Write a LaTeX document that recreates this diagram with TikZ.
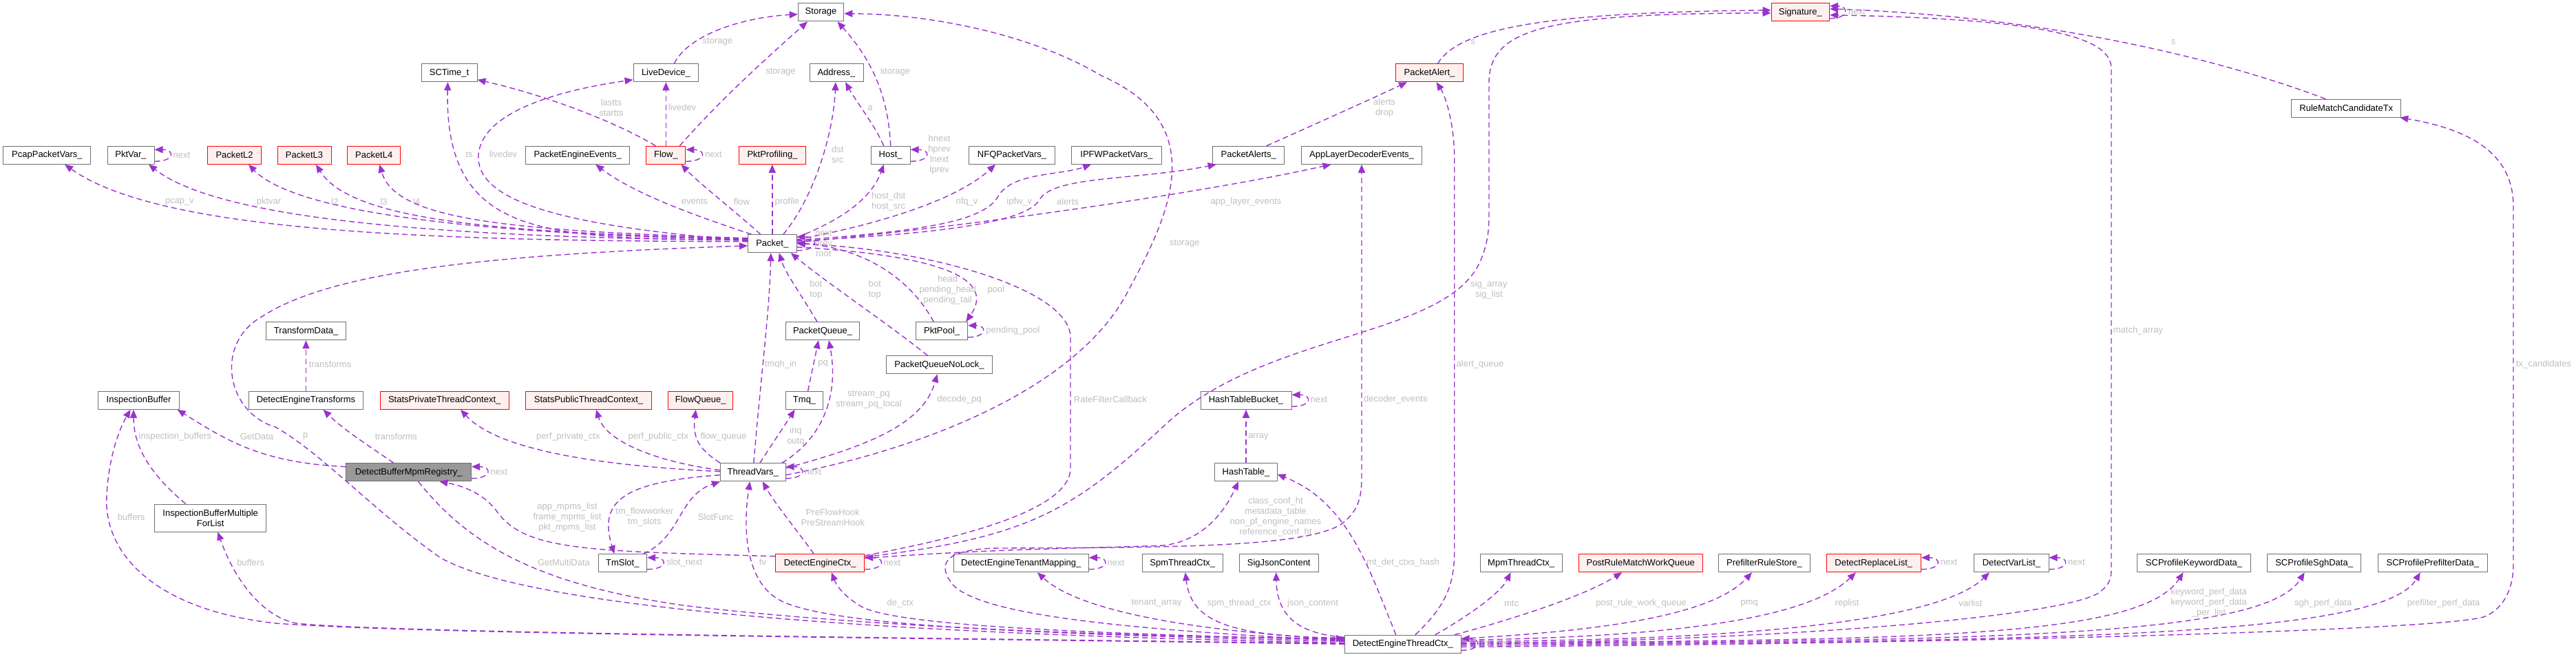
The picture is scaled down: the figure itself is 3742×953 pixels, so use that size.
\documentclass[tikz,border=0pt]{standalone}
\usepackage{fontspec}
\setmainfont{Liberation Sans}
\usetikzlibrary{arrows.meta}
\definecolor{edgec}{HTML}{9A32CD}
\definecolor{nodeb}{HTML}{707070}
\definecolor{redfill}{HTML}{FFF0F0}
\definecolor{rootfill}{HTML}{999999}
\definecolor{lblc}{HTML}{BEBEBE}
\begin{document}
\begin{tikzpicture}[x=1pt, y=-1pt, font=\fontsize{13}{15}\selectfont,
 cls/.style={draw=nodeb, fill=white, line width=1pt, minimum height=26pt, inner xsep=0pt, inner ysep=0pt},
 redcls/.style={cls, draw=red, fill=redfill},
 rootcls/.style={cls, fill=rootfill},
 lbl/.style={text=lblc, align=center, inner sep=0pt},
 rel/.style={draw=edgec, line width=1.4pt, dash pattern=on 8pt off 5pt, -{Triangle[length=12pt,width=10pt]}}]
\useasboundingbox (0,0) rectangle (3742,953);
% ---------------- nodes
\node[cls, minimum width=127pt] (pcap) at (68.4,225.3) {PcapPacketVars\_};
\node[cls, minimum width=68pt] (pktvar) at (190,225.3) {PktVar\_};
\node[redcls, minimum width=78pt] (pl2) at (340.6,225.3) {PacketL2};
\node[redcls, minimum width=78pt] (pl3) at (442,225.3) {PacketL3};
\node[redcls, minimum width=77.5pt] (pl4) at (543.2,225.3) {PacketL4};
\node[cls, minimum width=81pt] (sctime) at (652.5,105.8) {SCTime\_t};
\node[cls, minimum width=94.7pt] (livedev) at (967.4,105.8) {LiveDevice\_};
\node[cls, minimum width=151pt] (pee) at (839.2,225.3) {PacketEngineEvents\_};
\node[redcls, minimum width=57pt] (flow) at (967.4,225.3) {Flow\_};
\node[redcls, minimum width=96.3pt] (pktprof) at (1122,225.3) {PktProfiling\_};
\node[cls, minimum width=78pt] (address) at (1215,105.8) {Address\_};
\node[cls, minimum width=66.6pt] (storage) at (1192.5,17.8) {Storage};
\node[cls, minimum width=57pt] (host) at (1293.7,225.3) {Host\_};
\node[cls, minimum width=124.5pt] (nfq) at (1470,225.3) {NFQPacketVars\_};
\node[cls, minimum width=130.6pt] (ipfw) at (1622,225.3) {IPFWPacketVars\_};
\node[cls, minimum width=104pt] (palerts) at (1813.7,225.3) {PacketAlerts\_};
\node[cls, minimum width=174.7pt] (aldec) at (1978,225.3) {AppLayerDecoderEvents\_};
\node[redcls, minimum width=97.5pt] (palert) at (2076.5,105.8) {PacketAlert\_};
\node[redcls, minimum width=84.5pt] (sig) at (2615.3,17.8) {Signature\_};
\node[cls, minimum width=158.8pt] (rmct) at (3408.3,157.2) {RuleMatchCandidateTx};
\node[cls, minimum width=70.6pt] (packet) at (1121.8,353.8) {Packet\_};
\node[cls, minimum width=116.3pt] (tdata) at (444.7,480.7) {TransformData\_};
\node[cls, minimum width=107.4pt] (pqueue) at (1195,480.7) {PacketQueue\_};
\node[cls, minimum width=75pt] (pktpool) at (1368.2,480.7) {PktPool\_};
\node[cls, minimum width=153.5pt] (pqnl) at (1364.5,529.8) {PacketQueueNoLock\_};
\node[cls, minimum width=117.5pt] (ibuf) at (201.6,581.3) {InspectionBuffer};
\node[cls, minimum width=166.5pt] (dettr) at (444.5,581.3) {DetectEngineTransforms};
\node[redcls, minimum width=187pt] (sprivtc) at (645.7,581.3) {StatsPrivateThreadContext\_};
\node[redcls, minimum width=183pt] (spubtc) at (855,581.3) {StatsPublicThreadContext\_};
\node[redcls, minimum width=94.3pt] (fqueue) at (1017.8,581.3) {FlowQueue\_};
\node[cls, minimum width=54.7pt] (tmq) at (1168.6,581.3) {Tmq\_};
\node[cls, minimum width=132pt] (htb) at (1810,581.3) {HashTableBucket\_};
\node[rootcls, minimum width=181.6pt] (dbmr) at (593.7,685.7) {DetectBufferMpmRegistry\_};
\node[cls, minimum width=94.7pt] (tv) at (1093.8,685.7) {ThreadVars\_};
\node[cls, minimum width=90.2pt] (ht) at (1810,685.7) {HashTable\_};
\node[cls, minimum width=162.5pt, minimum height=40pt, align=center] (ibmfl) at (305.7,752) {InspectionBufferMultiple\\ForList};
\node[cls, minimum width=70.6pt] (tmslot) at (904.3,817.7) {TmSlot\_};
\node[redcls, minimum width=129.4pt] (dec) at (1191.2,817.7) {DetectEngineCtx\_};
\node[cls, minimum width=196pt] (detm) at (1483.3,817.7) {DetectEngineTenantMapping\_};
\node[cls, minimum width=117.1pt] (spm) at (1717.8,817.7) {SpmThreadCtx\_};
\node[cls, minimum width=114.6pt] (sjc) at (1857.7,817.7) {SigJsonContent};
\node[cls, minimum width=118.8pt] (mpm) at (2209.6,817.7) {MpmThreadCtx\_};
\node[redcls, minimum width=180pt] (prmwq) at (2383.2,817.7) {PostRuleMatchWorkQueue};
\node[cls, minimum width=132.7pt] (prs) at (2563,817.7) {PrefilterRuleStore\_};
\node[redcls, minimum width=137.6pt] (drl) at (2721.8,817.7) {DetectReplaceList\_};
\node[cls, minimum width=108.2pt] (dvl) at (2921.9,817.7) {DetectVarList\_};
\node[cls, minimum width=164.2pt] (spkd) at (3187,817.7) {SCProfileKeywordData\_};
\node[cls, minimum width=136.7pt] (spsd) at (3361.6,817.7) {SCProfileSghData\_};
\node[cls, minimum width=158.4pt] (sppd) at (3533.8,817.7) {SCProfilePrefilterData\_};
\node[cls, minimum width=168.6pt] (detc) at (2037.8,935.3) {DetectEngineThreadCtx\_};
% ---------------- edges from Packet_
\draw[rel] ([yshift=3pt]packet.west) .. controls (600,350) and (230,335) .. ([xshift=25.6pt]pcap.south);
\draw[rel] ([yshift=5pt]packet.west) .. controls (650,345) and (320,320) .. ([xshift=26pt]pktvar.south);
\draw[rel] ([yshift=6pt]packet.west) .. controls (700,340) and (430,310) .. ([xshift=20.4pt]pl2.south);
\draw[rel] ([yshift=7pt]packet.west) .. controls (720,338) and (510,320) .. ([xshift=17pt]pl3.south);
\draw[rel] ([yshift=8pt]packet.west) .. controls (740,335) and (575,320) .. ([xshift=8pt]pl4.south);
\draw[rel] ([yshift=5pt]packet.west) .. controls (800,345) and (645,350) .. ([xshift=-2pt]sctime.south);
\draw[rel] ([yshift=4pt]packet.west) .. controls (850,330) and (690,300) .. (695,225) .. controls (700,160) and (820,130) .. ([yshift=-10pt]livedev.west);
\draw[rel] ([xshift=-30pt]packet.north) .. controls (1000,310) and (920,280) .. ([xshift=26pt]pee.south);
\draw[rel] ([xshift=-17pt]packet.north) .. controls (1060,300) and (1020,270) .. ([xshift=22pt]flow.south);
\draw[rel] (packet.north) -- (packet.north |- pktprof.south);
\draw[rel] ([xshift=16pt]packet.north) .. controls (1180,290) and (1210,200) .. ([xshift=-1pt]address.south);
\draw[rel] ([yshift=9pt]packet.east) .. controls (1220,320) and (1265,290) .. ([xshift=-9.7pt]host.south);
\draw[rel] ([yshift=6pt]packet.east) .. controls (1280,325) and (1390,290) .. ([xshift=-24pt]nfq.south);
\draw[rel] ([yshift=5pt]packet.east) .. controls (1350,335) and (1430,320) .. (1450,285) .. controls (1470,250) and (1540,255) .. ([xshift=-37pt]ipfw.south);
\draw[rel] ([yshift=4pt]packet.east) .. controls (1350,340) and (1490,325) .. (1510,290) .. controls (1530,255) and (1650,262) .. ([xshift=-47pt]palerts.south);
\draw[rel] ([yshift=2pt]packet.east) .. controls (1400,330) and (1750,280) .. ([xshift=-44.5pt]aldec.south);
\draw[rel] ([yshift=-10pt]packet.east) .. controls +(32,0) and +(32,0) .. ([yshift=10pt]packet.east);
% ---------------- upper area
\draw[rel] ([xshift=-15pt]flow.north) .. controls (900,180) and (800,140) .. ([yshift=-10pt]sctime.east);
\draw[rel] (flow.north) -- (livedev.south);
\draw[rel] ([xshift=20pt]flow.north) .. controls (1050,140) and (1130,70) .. ([xshift=-19.5pt]storage.south);
\draw[rel] ([xshift=12pt]livedev.north) .. controls (1000,50) and (1080,25) .. ([yshift=-3pt]storage.west);
\draw[rel] (host.north) .. controls (1290,130) and (1260,80) .. ([xshift=24pt]storage.south);
\draw[rel] ([xshift=-10pt]host.north) .. controls (1270,180) and (1245,150) .. ([xshift=13pt]address.south);
\draw[rel] ([yshift=-9pt]host.east) .. controls +(30,0) and +(30,0) .. ([yshift=8pt]host.east);
\draw[rel] ([yshift=-9pt]flow.east) .. controls +(30,0) and +(30,0) .. ([yshift=8pt]flow.east);
\draw[rel] ([yshift=-9pt]pktvar.east) .. controls +(30,0) and +(30,0) .. ([yshift=8pt]pktvar.east);
\draw[rel] ([xshift=26pt]palerts.north) .. controls (1900,185) and (2000,140) .. ([xshift=-32.5pt]palert.south);
\draw[rel] ([xshift=12pt]palert.north) .. controls (2120,40) and (2250,18) .. ([yshift=3pt]sig.west);
\draw[rel] ([yshift=9pt]dec.east) .. controls (1500,780) and (1560,740) .. (1700,610) .. controls (1850,480) and (2100,490) .. (2150,380) .. controls (2163,350) and (2163,330) .. (2163,300) -- (2163,120) .. controls (2163,40) and (2250,20) .. ([yshift=-1pt]sig.west);
\draw[rel] ([xshift=-30pt]rmct.north) .. controls (3250,95) and (3000,25) .. ([yshift=5pt]sig.east);
\draw[rel] ([yshift=1pt]detc.east) .. controls (2600,930) and (3000,895) .. (3050,860) .. controls (3065,848) and (3067,840) .. (3067,825) -- (3067,100) .. controls (3067,60) and (3000,28) .. ([yshift=-4pt]sig.east);
\draw[rel] ([yshift=-9pt]sig.east) .. controls +(28,0) and +(28,0) .. ([yshift=9pt]sig.east);
\draw[rel] ([yshift=-4pt]detc.east) .. controls (2800,935) and (3560,916) .. (3610,895) .. controls (3640,882) and (3651,850) .. (3651,820) -- (3651,300) .. controls (3651,230) and (3600,190) .. ([xshift=-2pt]rmct.south east);
\draw[rel] ([xshift=18pt]detc.north) .. controls (2100,880) and (2112.7,850) .. (2112.7,800) -- (2112.7,230) .. controls (2112.7,180) and (2100,140) .. ([xshift=10pt]palert.south);
\draw[rel] ([yshift=5pt]detc.west) .. controls (1650,915) and (1430,895) .. (1385,850) .. controls (1360,820) and (1370,797) .. (1450,796) .. controls (1700,795) and (1900,795) .. (1950,760) .. controls (1975,740) and (1978,720) .. (1978,690) -- (aldec.south);
\draw[rel] ([xshift=-10pt]detc.north) .. controls (1990,830) and (1960,730) .. ([yshift=-3pt]ht.east);
\draw[rel] ([yshift=7pt]dec.east) .. controls (1450,796) and (1600,796) .. (1690,792) .. controls (1750,785) and (1780,740) .. ([xshift=-11pt]ht.south);
\draw[rel] ([yshift=11pt]dec.east) .. controls (1400,780) and (1555,740) .. (1555,680) -- (1555,490) .. controls (1555,420) and (1350,362) .. (packet.east);
\draw[rel] ([xshift=-12pt]pktpool.north) .. controls (1320,400) and (1250,360) .. ([yshift=1pt]packet.east);
\draw[rel] ([yshift=-5pt]packet.east) .. controls (1350,370) and (1450,400) .. ([xshift=35pt]pktpool.north);
\draw[rel] ([yshift=-9pt]pktpool.east) .. controls +(28,0) and +(28,0) .. ([yshift=8pt]pktpool.east);
\draw[rel] ([xshift=-8pt]pqueue.north) .. controls (1165,430) and (1140,395) .. ([xshift=10pt]packet.south);
\draw[rel] ([xshift=-17pt]pqnl.north) .. controls (1290,470) and (1200,410) .. ([xshift=27pt]packet.south);
% ---------------- ThreadVars_ area
\draw[rel] ([xshift=1pt]tv.north) .. controls (1105,550) and (1118,450) .. ([xshift=-2pt]packet.south);
\draw[rel] ([xshift=5pt]tmq.north) -- ([xshift=-6pt]pqueue.south);
\draw[rel] ([xshift=42pt]tv.north) .. controls (1190,640) and (1220,580) .. ([xshift=9pt]pqueue.south);
\draw[rel] ([xshift=10pt]tv.north) -- ([xshift=-14pt]tmq.south);
\draw[rel] (tv.north west) .. controls (1020,655) and (1005,640) .. ([xshift=-7pt]fqueue.south);
\draw[rel] ([yshift=3pt]tv.west) .. controls (950,670) and (880,640) .. ([xshift=11pt]spubtc.south);
\draw[rel] ([yshift=1pt]tv.west) .. controls (850,675) and (720,650) .. ([xshift=23.3pt]sprivtc.south);
\draw[rel] ([yshift=-9pt]tv.east) .. controls +(30,0) and +(30,0) .. ([yshift=8pt]tv.east);
\draw[rel] ([yshift=6pt]tv.east) .. controls (1250,650) and (1340,620) .. ([xshift=-3pt]pqnl.south);
\draw[rel] ([yshift=-4pt]tv.east) .. controls (1350,650) and (1570,560) .. (1640,420) .. controls (1700,310) and (1760,180) .. (1600,110) .. controls (1500,50) and (1350,20) .. ([yshift=-2pt]storage.east);
\draw[rel] ([xshift=30pt]tmslot.north) .. controls (990,780) and (985,720) .. (tv.south west);
\draw[rel] ([yshift=-4pt]tv.west) .. controls (900,700) and (870,730) .. ([xshift=-12pt]tmslot.north);
\draw[rel] ([yshift=-9pt]tmslot.east) .. controls +(30,0) and +(30,0) .. ([yshift=8pt]tmslot.east);
\draw[rel] ([xshift=-9pt]dec.north) .. controls (1150,760) and (1125,730) .. ([xshift=14pt]tv.south);
\draw[rel] ([yshift=10pt]dec.west) .. controls (850,800) and (760,800) .. (720,740) .. controls (700,715) and (670,705) .. ([xshift=44.7pt]dbmr.south);
\draw[rel] ([yshift=-9pt]dec.east) .. controls +(30,0) and +(30,0) .. ([yshift=8pt]dec.east);
% ---------------- DetectEngineThreadCtx_ edges (left)
\draw[rel] ([yshift=6pt]detc.west) .. controls (1600,920) and (1300,910) .. (1250,880) .. controls (1225,865) and (1215,850) .. ([xshift=16.6pt]dec.south);
\draw[rel] ([yshift=4pt]detc.west) .. controls (1500,920) and (1200,910) .. (1130,870) .. controls (1080,840) and (1080,760) .. ([xshift=-4.4pt]tv.south);
\draw[rel] ([xshift=14pt]dbmr.south) .. controls (680,790) and (780,850) .. (1000,880) .. controls (1300,915) and (1700,925) .. ([yshift=8pt]detc.west);
\draw[rel] ([yshift=2pt]detc.west) .. controls (1500,925) and (800,900) .. (640,810) .. controls (540,740) and (470,660) .. (400,620) .. controls (330,600) and (310,500) .. (380,460) .. controls (480,395) and (700,370) .. ([yshift=-3pt]packet.west);
\draw[rel] ([yshift=8pt]dbmr.west) .. controls (380,672) and (330,640) .. ([xshift=56pt]ibuf.south);
\draw[rel] ([xshift=-22pt]dbmr.north) .. controls (540,650) and (500,625) .. ([xshift=25pt]dettr.south);
\draw[rel] (dettr.north) -- (dettr.north |- tdata.south);
\draw[rel] ([yshift=-9pt]dbmr.east) .. controls +(30,0) and +(30,0) .. ([yshift=8pt]dbmr.east);
\draw[rel] ([xshift=-36pt]ibmfl.north) .. controls (220,690) and (194,650) .. ([xshift=-7.6pt]ibuf.south);
\draw[rel] (detc.west) .. controls (1200,925) and (600,920) .. (400,905) .. controls (220,885) and (150,800) .. (155,720) .. controls (158,660) and (175,620) .. ([xshift=-12pt]ibuf.south);
\draw[rel] ([yshift=1pt]detc.west) .. controls (1200,925) and (550,918) .. (430,905) .. controls (380,895) and (340,840) .. ([xshift=10.6pt]ibmfl.south);
\draw[rel] ([yshift=7pt]detc.west) .. controls (1750,918) and (1570,890) .. ([xshift=23.7pt]detm.south);
\draw[rel] ([yshift=-9pt]detm.east) .. controls +(30,0) and +(30,0) .. ([yshift=8pt]detm.east);
\draw[rel] ([yshift=9pt]detc.west) .. controls (1780,925) and (1730,900) .. ([xshift=4pt]spm.south);
\draw[rel] ([yshift=10pt]detc.west) .. controls (1880,920) and (1855,890) .. ([xshift=-4pt]sjc.south);
% ---------------- DetectEngineThreadCtx_ edges (right)
\draw[rel] ([xshift=47pt]detc.north) .. controls (2140,890) and (2180,860) .. ([xshift=-15pt]mpm.south);
\draw[rel] ([xshift=75pt]detc.north) .. controls (2230,890) and (2310,860) .. ([xshift=-27pt]prmwq.south);
\draw[rel] ([yshift=8pt]detc.east) .. controls (2350,915) and (2490,890) .. ([xshift=-18pt]prs.south);
\draw[rel] ([yshift=6pt]detc.east) .. controls (2450,925) and (2630,895) .. ([xshift=-26pt]drl.south);
\draw[rel] ([yshift=-9pt]drl.east) .. controls +(30,0) and +(30,0) .. ([yshift=8pt]drl.east);
\draw[rel] ([yshift=4pt]detc.east) .. controls (2550,930) and (2820,900) .. ([xshift=-32pt]dvl.south);
\draw[rel] ([yshift=-9pt]dvl.east) .. controls +(30,0) and +(30,0) .. ([yshift=8pt]dvl.east);
\draw[rel] ([yshift=2pt]detc.east) .. controls (2800,930) and (3110,925) .. ([xshift=-15.4pt]spkd.south);
\draw[rel] (detc.east) .. controls (2900,930) and (3290,925) .. ([xshift=-14pt]spsd.south);
\draw[rel] ([yshift=-2pt]detc.east) .. controls (3000,930) and (3460,925) .. ([xshift=-18pt]sppd.south);
\draw[rel] ([yshift=-9pt]detc.east) .. controls +(30,0) and +(30,0) .. ([yshift=8pt]detc.east);
\draw[rel] (ht.north) -- (htb.south);
\draw[rel] ([yshift=-9pt]htb.east) .. controls +(30,0) and +(30,0) .. ([yshift=8pt]htb.east);
% ---------------- labels
\node[lbl] (a01) at (261,293) {pcap\_v};
\node[lbl] (a02) at (390.6,293) {pktvar};
\node[lbl] (a03) at (486.5,293) {l2};
\node[lbl] (a04) at (557.6,293) {l3};
\node[lbl] (a05) at (605.3,293) {l4};
\node[lbl] (a06) at (264,225) {next};
\node[lbl] (a07) at (681.6,224.3) {ts};
\node[lbl] (a08) at (731,224.3) {livedev};
\node[lbl] (a09) at (1036.3,224.3) {next};
\node[lbl] (a10) at (888,156.5) {lastts\\startts};
\node[lbl] (a11) at (991,156) {livedev};
\node[lbl] (a12) at (1042.4,61) {storage};
\node[lbl] (a13) at (1134,105) {storage};
\node[lbl] (a14) at (1216.7,224.5) {dst\\src};
\node[lbl] (a15) at (1009,292.7) {events};
\node[lbl] (a16) at (1077.5,292.7) {flow};
\node[lbl] (a17) at (1143.3,292.7) {profile};
\node[lbl] (a18) at (1196.3,353) {next\\prev\\root};
\node[lbl] (a19) at (1185.3,420.5) {bot\\top};
\node[lbl] (a20) at (1300.4,105) {storage};
\node[lbl] (a21) at (1264,157) {a};
\node[lbl] (a22) at (1364.5,224.5) {hnext\\hprev\\lnext\\lprev};
\node[lbl] (a23) at (1290.6,292.7) {host\_dst\\host\_src};
\node[lbl] (a24) at (1404.5,292.7) {nfq\_v};
\node[lbl] (a25) at (1480.8,292.7) {ipfw\_v};
\node[lbl] (a26) at (1551,292.7) {alerts};
\node[lbl] (a27) at (1809.8,292.7) {app\_layer\_events};
\node[lbl] (a28) at (1720.8,353.3) {storage};
\node[lbl] (a29) at (1376.7,421) {head\\pending\_head\\pending\_tail};
\node[lbl] (a30) at (1447,421) {pool};
\node[lbl] (a31) at (1270.6,420.5) {bot\\top};
\node[lbl] (a32) at (2011,156.5) {alerts\\drop};
\node[lbl] (a33) at (2139.6,61) {s};
\node[lbl] (a34) at (2162.9,421) {sig\_array\\sig\_list};
\node[lbl] (a35) at (2697.5,17) {next};
\node[lbl] (a36) at (3157,61) {s};
\node[lbl] (a37) at (3695,528.7) {tx\_candidates};
\node[lbl] (a38) at (3106,480) {match\_array};
\node[lbl] (a39) at (479.6,528.7) {transforms};
\node[lbl] (a40) at (254.3,633.7) {inspection\_buffers};
\node[lbl] (a41) at (373,633.7) {GetData};
\node[lbl] (a42) at (443.7,633.7) {p};
\node[lbl] (a43) at (575.5,633.7) {transforms};
\node[lbl] (a44) at (190.6,750.7) {buffers};
\node[lbl] (a45) at (364,816.7) {buffers};
\node[lbl] (a46) at (1134,528.7) {tmqh\_in};
\node[lbl] (a47) at (1195.5,528.7) {pq};
\node[lbl] (a48) at (1262,580.3) {stream\_pq\\stream\_pq\_local};
\node[lbl] (a49) at (825.3,633.7) {perf\_private\_ctx};
\node[lbl] (a50) at (956.3,633.7) {perf\_public\_ctx};
\node[lbl] (a51) at (1051,633.7) {flow\_queue};
\node[lbl] (a52) at (1155.9,633.7) {inq\\outq};
\node[lbl] (a53) at (725,685) {next};
\node[lbl] (a54) at (1181,685) {next};
\node[lbl] (a55) at (824,751.3) {app\_mpms\_list\\frame\_mpms\_list\\pkt\_mpms\_list};
\node[lbl] (a56) at (936.3,751) {tm\_flowworker\\tm\_slots};
\node[lbl] (a57) at (1039.6,750.7) {SlotFunc};
\node[lbl] (a58) at (1209.8,751) {PreFlowHook\\PreStreamHook};
\node[lbl] (a59) at (819,816.7) {GetMultiData};
\node[lbl] (a60) at (994.3,816.7) {slot\_next};
\node[lbl] (a61) at (1108,816.7) {tv};
\node[lbl] (a62) at (1471.5,479.7) {pending\_pool};
\node[lbl] (a63) at (1393.5,580.3) {decode\_pq};
\node[lbl] (a64) at (1613,580.3) {RateFilterCallback};
\node[lbl] (a65) at (1827.8,634) {array};
\node[lbl] (a66) at (1853,750.8) {class\_conf\_ht\\metadata\_table\\non\_pf\_engine\_names\\reference\_conf\_ht};
\node[lbl] (a67) at (1296,817.7) {next};
\node[lbl] (a68) at (1621,817.7) {next};
\node[lbl] (a69) at (1916,580.3) {next};
\node[lbl] (a70) at (1307.8,876) {de\_ctx};
\node[lbl] (a71) at (1680,876) {tenant\_array};
\node[lbl] (a72) at (1800,876) {spm\_thread\_ctx};
\node[lbl] (a73) at (1907,876) {json\_content};
\node[lbl] (a74) at (2150,529) {alert\_queue};
\node[lbl] (a75) at (2027.3,580.3) {decoder\_events};
\node[lbl] (a76) at (2038,816.7) {mt\_det\_ctxs\_hash};
\node[lbl] (a77) at (2195.5,876) {mtc};
\node[lbl] (a78) at (2384,876) {post\_rule\_work\_queue};
\node[lbl] (a79) at (2186.5,935) {mt\_det\_ctxs};
\node[lbl] (a80) at (2541,876) {pmq};
\node[lbl] (a81) at (2683,876) {replist};
\node[lbl] (a82) at (2862.4,876) {varlist};
\node[lbl] (a83) at (2831,816.7) {next};
\node[lbl] (a84) at (3016.3,816.7) {next};
\node[lbl] (a85) at (3208.5,875.3) {keyword\_perf\_data\\keyword\_perf\_data\\\_per\_list};
\node[lbl] (a86) at (3374.7,876) {sgh\_perf\_data};
\node[lbl] (a87) at (3549.6,876) {prefilter\_perf\_data};
\end{tikzpicture}
\end{document}
